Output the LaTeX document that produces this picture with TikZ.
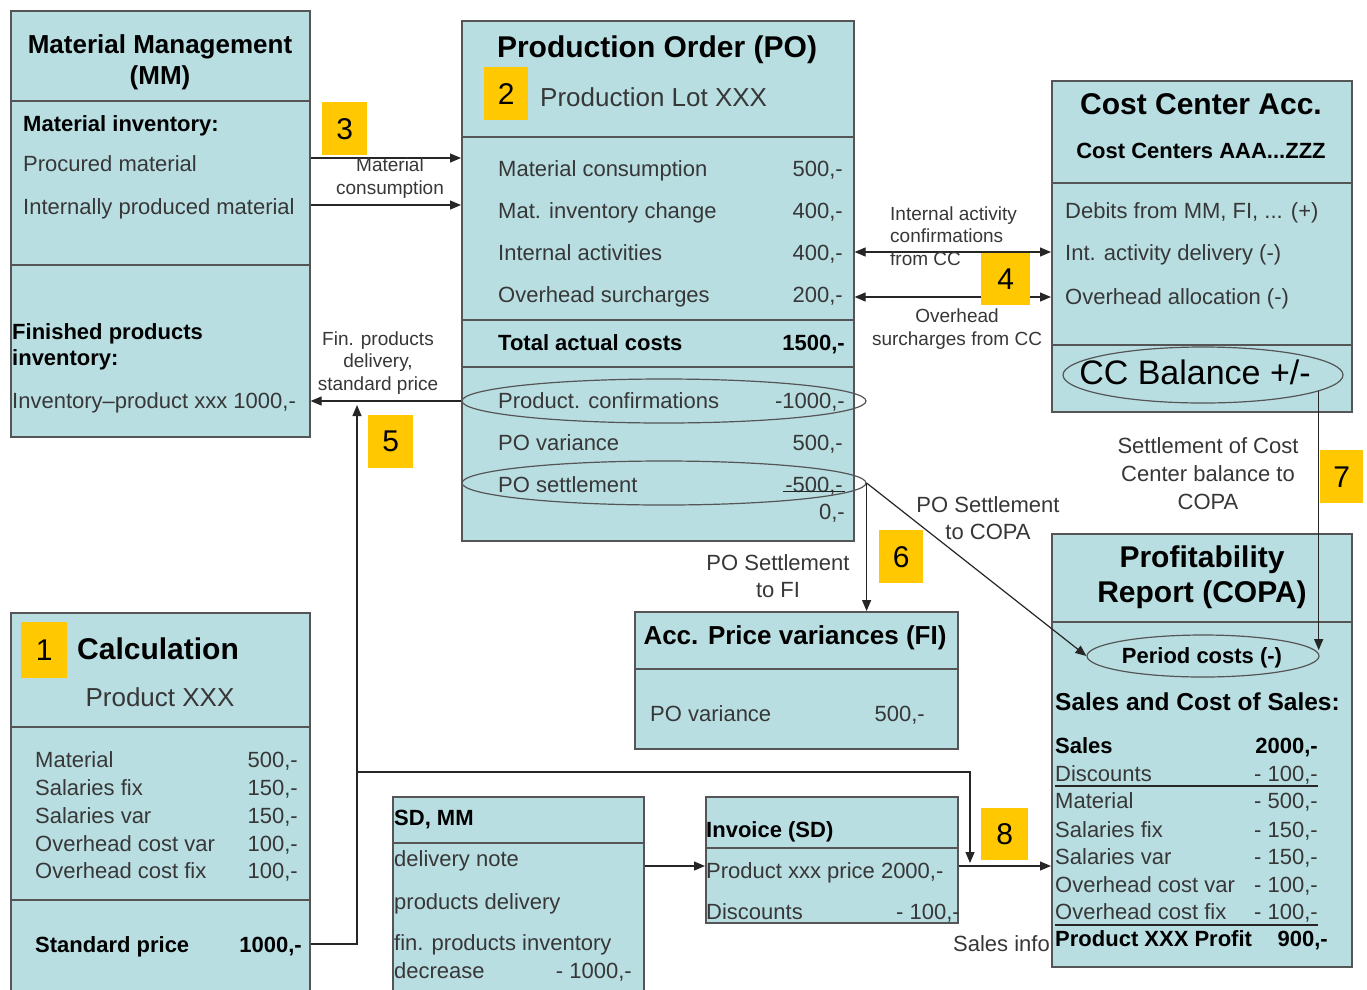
\documentclass[tikz,border=0pt]{standalone}
\usepackage{fontspec}
\setmainfont{Liberation Sans}
\usetikzlibrary{arrows.meta,shapes.geometric,calc}
\definecolor{boxfill}{RGB}{184,222,226}
\definecolor{bord}{RGB}{85,85,85}
\definecolor{numy}{RGB}{255,200,0}
\definecolor{txt}{RGB}{55,55,55}
\newcommand\fT[2]{\fontsize{#1}{#2}\selectfont}
\begin{document}
\begin{tikzpicture}[x=1pt,y=-1pt,
  box/.style={draw=bord, line width=1.6pt, fill=boxfill, inner sep=0pt, anchor=north west},
  div/.style={draw=bord, line width=1.6pt},
  t/.style={inner sep=0pt, anchor=mid west, yshift=-6pt, text=txt, font=\fT{22}{26}},
  tr/.style={t, anchor=mid east},
  tb/.style={t, text=black, font=\bfseries\fT{22}{26}},
  tbr/.style={tb, anchor=mid east},
  ti/.style={inner sep=0pt, anchor=center, yshift=-3pt, text=black, font=\bfseries\fT{30}{35}, align=center},
  lab/.style={inner sep=0pt, anchor=center, align=center, text=txt, font=\fT{19}{22.5}},
  labm/.style={inner sep=0pt, anchor=center, align=center, text=txt, font=\fT{22}{27}},
  num/.style={fill=numy, inner sep=0pt, anchor=north west, font=\fT{30}{30}},
  ell/.style={ellipse, draw=bord, line width=1.2pt, inner sep=0pt},
  conn/.style={draw=black!85, line width=1.2pt},
  arr/.style={conn, -{Triangle[length=11pt,width=9pt]}},
  arrb/.style={conn, {Triangle[length=11pt,width=9pt]}-{Triangle[length=11pt,width=9pt]}}
]
\useasboundingbox (0,0) rectangle (1367,989);
\clip (0,0) rectangle (1367,989);
\fill[white] (0,0) rectangle (1367,989);

% ---------- boxes ----------
\node[box, minimum width=299pt, minimum height=426pt] (mm) at (10,10) {};
\node[box, minimum width=392pt, minimum height=520pt] (po) at (461,20) {};
\node[box, minimum width=300pt, minimum height=331pt] (cc) at (1051,80) {};
\node[box, minimum width=300pt, minimum height=433pt] (copa) at (1051,533) {};
\node[box, minimum width=299pt, minimum height=400pt] (calc) at (10,612) {};
\node[box, minimum width=251pt, minimum height=220pt] (sd) at (392,796) {};
\node[box, minimum width=252pt, minimum height=126pt] (inv) at (705,796) {};
\node[box, minimum width=323pt, minimum height=137pt] (fi) at (634,611) {};

% ---------- dividers ----------
\foreach \yy in {101,265} \draw[div] (mm.west |- 0,\yy) -- (mm.east |- 0,\yy);
\foreach \yy in {137,320,367} \draw[div] (po.west |- 0,\yy) -- (po.east |- 0,\yy);
\foreach \yy in {183,345} \draw[div] (cc.west |- 0,\yy) -- (cc.east |- 0,\yy);
\draw[div] (copa.west |- 0,622) -- (copa.east |- 0,622);
\foreach \yy in {727,900} \draw[div] (calc.west |- 0,\yy) -- (calc.east |- 0,\yy);
\draw[div] (sd.west |- 0,843) -- (sd.east |- 0,843);
\draw[div] (inv.west |- 0,848) -- (inv.east |- 0,848);
\draw[div] (fi.west |- 0,669) -- (fi.east |- 0,669);

% ---------- MM ----------
\node[ti, font=\bfseries\fT{26}{31}] (mmt) at (160,59.5) {Material Management\\(MM)};
\node[tb] (mm1) at (23,123) {Material inventory:};
\node[t] (mm2) at (23,163) {Procured material};
\node[t] (mm3) at (23,206) {Internally produced material};
\node[tb, anchor=west, yshift=4pt, align=left] (mm4) at (12,344.5) {Finished products\\inventory:};
\node[t] (mm5) at (12,400) {Inventory\textendash product xxx 1000,-};

% ---------- PO ----------
\node[ti] (pot) at (657,47) {Production Order (PO)};
\node[num, minimum width=44pt, minimum height=53pt] (n2) at (484,67) {2};
\node[t, yshift=-1pt, font=\fT{26}{30}] (pol) at (540,97) {Production Lot XXX};
\node[t] (po1) at (498,168) {Material consumption};   \node[tr] (po1v) at (843,168) {500,-};
\node[t] (po2) at (498,210) {Mat. inventory change};  \node[tr] (po2v) at (843,210) {400,-};
\node[t] (po3) at (498,252) {Internal activities};    \node[tr] (po3v) at (843,252) {400,-};
\node[t] (po4) at (498,294) {Overhead surcharges};    \node[tr] (po4v) at (843,294) {200,-};
\node[tb] (po5) at (498,342) {Total actual costs};    \node[tbr] (po5v) at (845,342) {1500,-};
\node[t] (po6) at (498,400) {Product. confirmations}; \node[tr] (po6v) at (845,400) {-1000,-};
\node[t] (po7) at (498,442) {PO variance};            \node[tr] (po7v) at (843,442) {500,-};
\node[t] (po8) at (498,484) {PO settlement};          \node[tr] (po8v) at (843,484) {-500,-};
\draw[conn] (po8v.south west) ++(-2,-4) -- ($(po8v.south east)+(2,-4)$);
\node[tr] (po9) at (845,511) {0,-};
\node[ell, minimum width=404pt, minimum height=44pt] (ellconf) at (664,401) {};
\node[ell, minimum width=404pt, minimum height=44pt] (ellsett) at (664,483) {};

% ---------- Cost center ----------
\node[ti] (cct) at (1201,101) {Cost Center Acc.};
\node[ti, font=\bfseries\fT{22}{26}] (cct2) at (1201,148) {Cost Centers AAA...ZZZ};
\node[t] (cc1) at (1065,210) {Debits from MM, FI, ... (+)};
\node[t] (cc2) at (1065,252) {Int. activity delivery (-)};
\node[t] (cc3) at (1065,296) {Overhead allocation (-)};
\node[t, anchor=center, yshift=6pt, text=black, font=\fT{34}{38}] (cc4) at (1195,372) {CC Balance +/-};
\node[ell, minimum width=280pt, minimum height=56pt] (ellcc) at (1203,375) {};

% ---------- COPA ----------
\node[ti] (copat) at (1202,574) {Profitability\\Report (COPA)};
\node[ell, minimum width=232pt, minimum height=42pt] (ellperiod) at (1203,656) {};
\node[tb, anchor=center, yshift=3pt] (cp0) at (1202,655) {Period costs (-)};
\node[tb, font=\bfseries\fT{24.5}{27}] (cp1) at (1055,702) {Sales and Cost of Sales:};
\node[tb] (cp2) at (1055,745) {Sales};              \node[tbr] (cp2v) at (1318,745) {2000,-};
\node[t] (cp3) at (1055,773) {Discounts};           \node[tr] (cp3v) at (1318,773) {- 100,-};
\node[t] (cp4) at (1055,800) {Material};            \node[tr] (cp4v) at (1318,800) {- 500,-};
\node[t] (cp5) at (1055,829) {Salaries fix};        \node[tr] (cp5v) at (1318,829) {- 150,-};
\node[t] (cp6) at (1055,856) {Salaries var};        \node[tr] (cp6v) at (1318,856) {- 150,-};
\node[t] (cp7) at (1055,884) {Overhead cost var};   \node[tr] (cp7v) at (1318,884) {- 100,-};
\node[t] (cp8) at (1055,911) {Overhead cost fix};   \node[tr] (cp8v) at (1318,911) {- 100,-};
\node[tb] (cp9) at (1055,938) {Product XXX Profit}; \node[tbr] (cp9v) at (1328,938) {900,-};
\draw[conn] (cp3.west |- 0,786) -- (cp3v.east |- 0,786);
\draw[conn] (cp8.west |- 0,925) -- (cp8v.east |- 0,925);

% ---------- Calculation ----------
\node[num, minimum width=46pt, minimum height=56pt] (n1) at (21,622) {1};
\node[tb, yshift=-2pt, font=\bfseries\fT{30}{35}] (clt) at (77,649) {Calculation};
\node[t, anchor=center, yshift=6pt, font=\fT{26}{30}] (clp) at (160,697) {Product XXX};
\node[t] (cl1) at (35,759) {Material};          \node[tr] (cl1v) at (298,759) {500,-};
\node[t] (cl2) at (35,787) {Salaries fix};      \node[tr] (cl2v) at (298,787) {150,-};
\node[t] (cl3) at (35,815) {Salaries var};      \node[tr] (cl3v) at (298,815) {150,-};
\node[t] (cl4) at (35,843) {Overhead cost var}; \node[tr] (cl4v) at (298,843) {100,-};
\node[t] (cl5) at (35,870) {Overhead cost fix}; \node[tr] (cl5v) at (298,870) {100,-};
\node[tb] (cl6) at (35,944) {Standard price};   \node[tbr] (cl6v) at (302,944) {1000,-};

% ---------- SD, MM ----------
\node[tb] (sdt) at (394,817) {SD, MM};
\node[t] (sd1) at (394,858) {delivery note};
\node[t] (sd2) at (394,901) {products delivery};
\node[t] (sd3) at (394,942) {fin. products inventory};
\node[t] (sd4) at (394,970) {decrease};
\node[tr] (sd4v) at (632,970) {- 1000,-};

% ---------- Invoice ----------
\node[tb] (invt) at (706,829) {Invoice (SD)};
\node[t] (inv1) at (706,870) {Product xxx price 2000,-};
\node[t] (inv2) at (706,911) {Discounts};
\node[tr] (inv2v) at (960,911) {- 100,-};

% ---------- FI ----------
\node[ti, font=\bfseries\fT{26}{30}] (fit) at (795,635) {Acc. Price variances (FI)};
\node[t] (fi1) at (650,713) {PO variance};
\node[tr] (fi1v) at (925,713) {500,-};

% ---------- connectors ----------
\coordinate (y3a) at (0,158);
\coordinate (y3b) at (0,205);
\draw[arr] (mm.east |- y3a) -- (po.west |- y3a);
\draw[arr] (mm.east |- y3b) -- (po.west |- y3b);
\draw[arrb] (po.east |- 0,252) -- (cc.west |- 0,252);
\draw[arrb] (po.east |- 0,297) -- (cc.west |- 0,297);
\draw[arr] (ellconf.west) -- (mm.east |- ellconf.west);
\coordinate (j5) at (357,405);
\draw[arr] (calc.east |- 0,944) -| (j5);
\coordinate (b8) at (357,772);
\coordinate (j8) at (970,863);
\draw[arr] (b8) -| (j8);
\coordinate (y8) at (0,866);
\draw[arr] (sd.east |- y8) -- (inv.west |- y8);
\draw[arr] (inv.east |- y8) -- (copa.west |- y8);
\draw[arr] (ellsett.east) -- (ellsett.east |- fi.north);
\draw[arr] (ellsett.east) -- (ellperiod.west);
\draw[arr] (ellcc.-8) -- (ellcc.-8 |- ellperiod.3);

% ---------- connector labels ----------
\node[lab] (l3) at (390,178) {Material\\consumption};
\node[lab] (l5) at (378,363) {Fin. products\\delivery,\\standard price};
\node[lab, anchor=west, align=left] (l4a) at (890,236) {Internal activity\\confirmations\\from CC};
\node[lab] (l4b) at (957,329) {Overhead\\surcharges from CC};
\node[labm] (l6) at (778,576.5) {PO Settlement\\to FI};
\node[labm] (l6b) at (988,518.5) {PO Settlement\\to COPA};
\node[labm, font=\fT{22}{28}] (l7) at (1208,474) {Settlement of Cost\\Center balance to\\COPA};
\node[t, anchor=mid east] (l8) at (1050,943) {Sales info};

% ---------- number tags ----------
\node[num, minimum width=45pt, minimum height=53pt] (n3) at (322,102) {3};
\node[num, minimum width=49pt, minimum height=52pt] (n4) at (981,253) {4};
\node[num, minimum width=45pt, minimum height=53pt] (n5) at (368,415) {5};
\node[num, minimum width=44pt, minimum height=53pt] (n6) at (879,530) {6};
\node[num, minimum width=43pt, minimum height=53pt] (n7) at (1320,450) {7};
\node[num, minimum width=47pt, minimum height=52pt] (n8) at (981,808) {8};
\end{tikzpicture}
\end{document}
